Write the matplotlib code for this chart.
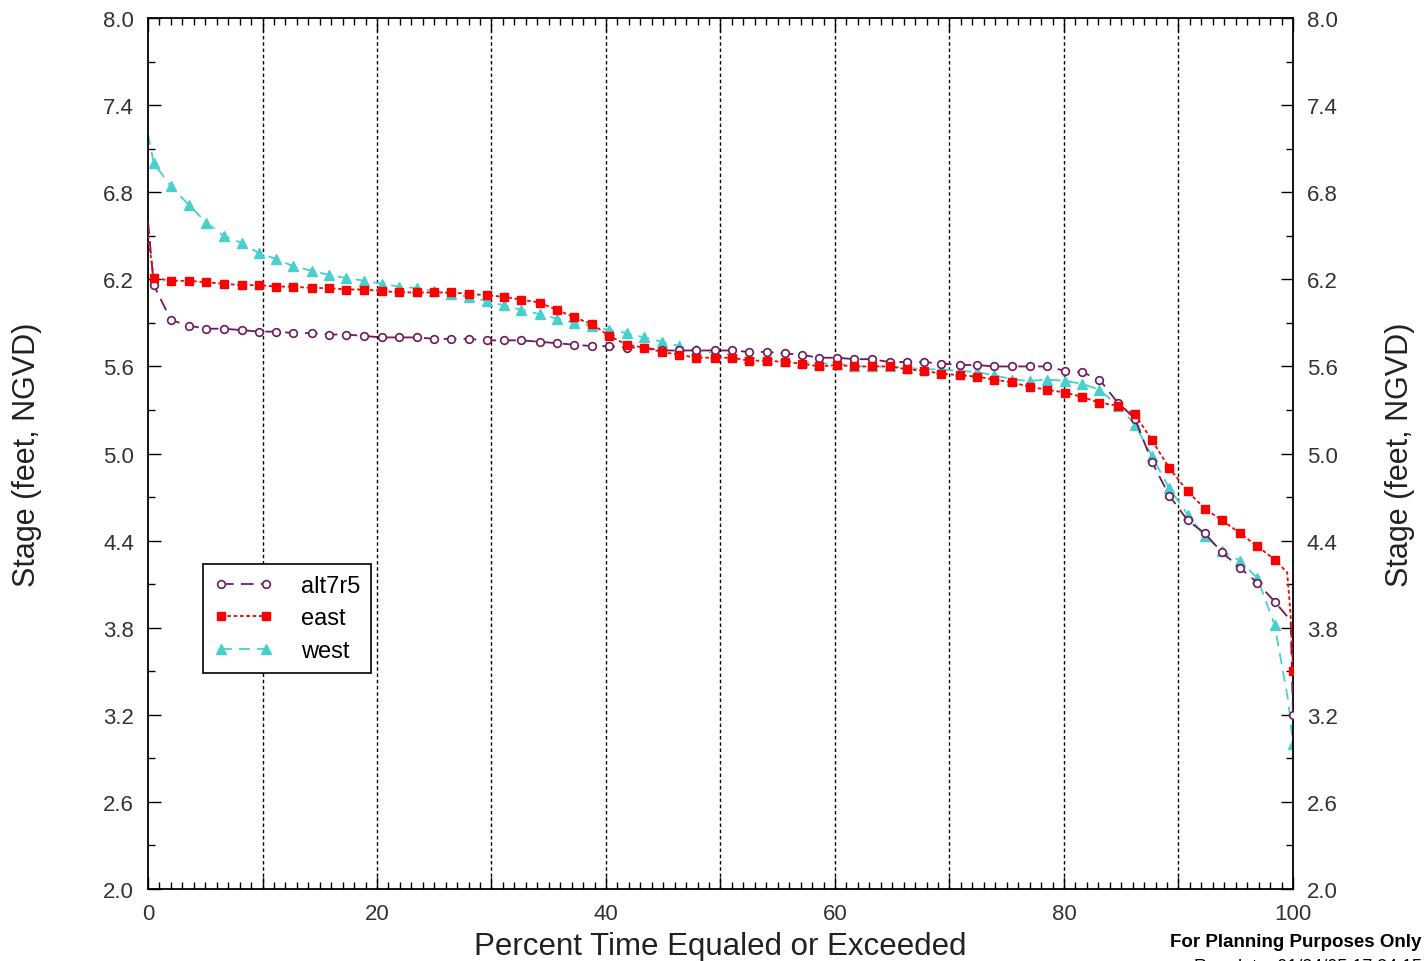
import numpy as np
import matplotlib
matplotlib.use("Agg")
import matplotlib.pyplot as plt
from matplotlib.ticker import MultipleLocator, FixedLocator, FormatStrFormatter

plt.rcParams['font.family'] = ['Liberation Sans', 'DejaVu Sans']

# percent-exceedance positions of the plotted markers
pct_grid = [0.5, 2.0, 3.6, 5.1, 6.6, 8.2, 9.7, 11.2, 12.7, 14.3, 15.8, 17.3, 18.9,
            20.4, 21.9, 23.5, 25.0, 26.5, 28.0, 29.6, 31.1, 32.6, 34.2, 35.7, 37.2,
            38.8, 40.3, 41.8, 43.3, 44.9, 46.4, 47.9, 49.5, 51.0, 52.5, 54.1, 55.6,
            57.1, 58.6, 60.2, 61.7, 63.2, 64.8, 66.3, 67.8, 69.3, 70.9, 72.4, 73.9,
            75.5, 77.0, 78.5, 80.1, 81.6, 83.1, 84.7, 86.2, 87.7, 89.2, 90.8, 92.3,
            93.8, 95.4, 96.9, 98.4]

alt_pct = [0.0] + pct_grid + [99.8, 100.0]
alt_stage = [6.60, 6.16, 5.92, 5.88, 5.86, 5.86, 5.85, 5.84, 5.84, 5.83, 5.83, 5.82,
             5.82, 5.81, 5.80, 5.80, 5.80, 5.79, 5.79, 5.79, 5.78, 5.78, 5.78, 5.77,
             5.76, 5.75, 5.74, 5.74, 5.73, 5.73, 5.71, 5.71, 5.71, 5.71, 5.71, 5.70,
             5.70, 5.69, 5.68, 5.66, 5.66, 5.65, 5.65, 5.63, 5.63, 5.63, 5.62, 5.61,
             5.61, 5.60, 5.60, 5.60, 5.60, 5.57, 5.56, 5.51, 5.35, 5.24, 4.94, 4.71,
             4.54, 4.45, 4.32, 4.21, 4.11, 3.98, 3.85, 3.20]

east_pct = [0.0] + pct_grid + [99.5, 99.8, 100.0]
east_stage = [6.50, 6.21, 6.19, 6.19, 6.18, 6.17, 6.16, 6.16, 6.15, 6.15, 6.14, 6.14,
              6.13, 6.13, 6.12, 6.11, 6.11, 6.11, 6.11, 6.10, 6.09, 6.08, 6.06, 6.04,
              5.99, 5.94, 5.89, 5.81, 5.75, 5.73, 5.70, 5.68, 5.66, 5.66, 5.66, 5.64,
              5.64, 5.63, 5.62, 5.60, 5.61, 5.60, 5.60, 5.60, 5.58, 5.57, 5.55, 5.54,
              5.53, 5.51, 5.49, 5.46, 5.44, 5.42, 5.39, 5.35, 5.33, 5.27, 5.09, 4.90,
              4.74, 4.62, 4.54, 4.45, 4.36, 4.27, 4.18, 3.88, 3.50]

west_pct = [0.0] + pct_grid + [99.6, 100.0]
west_stage = [7.20, 7.00, 6.84, 6.71, 6.59, 6.50, 6.45, 6.38, 6.34, 6.29, 6.26, 6.23,
              6.21, 6.19, 6.17, 6.15, 6.14, 6.12, 6.10, 6.08, 6.05, 6.02, 5.99, 5.96,
              5.93, 5.90, 5.88, 5.85, 5.83, 5.80, 5.77, 5.74, 5.71, 5.69, 5.68, 5.66,
              5.65, 5.64, 5.63, 5.62, 5.62, 5.60, 5.60, 5.60, 5.59, 5.58, 5.58, 5.57,
              5.56, 5.54, 5.51, 5.50, 5.51, 5.50, 5.48, 5.44, 5.33, 5.20, 4.98, 4.76,
              4.58, 4.43, 4.33, 4.26, 4.14, 3.82, 3.29, 3.00]

y_ticks = [2.0, 2.6, 3.2, 3.8, 4.4, 5.0, 5.6, 6.2, 6.8, 7.4, 8.0]
x_ticks = [0, 10, 20, 30, 40, 50, 60, 70, 80, 90, 100]
x_labels = ['0', '', '20', '', '40', '', '60', '', '80', '', '100']

n_grid = len(pct_grid)

fig = plt.figure(figsize=(14.26, 9.62), dpi=100)
ax = fig.add_axes([0.1038, 0.0748, 0.8029, 0.9054])

# vertical dotted grid
for gx in x_ticks[1:-1]:
    ax.axvline(gx, color='black', lw=1.0, ls=(0, (2.5, 2)), zorder=1)

ax.plot(alt_pct, alt_stage, color='#6e1a5e', lw=1.3, ls=(0, (7, 4)),
        marker='o', ms=5.5, mfc='white', mec='#6e1a5e', mew=1.2,
        markevery=list(range(1, n_grid + 1)) + [len(alt_pct) - 1],
        label='alt7r5', zorder=3)
ax.plot(east_pct, east_stage, color='#ff0000', lw=1.3, ls=(0, (2, 1.5)),
        marker='s', ms=6, mfc='#ff0000', mec='#ff0000',
        markevery=list(range(1, n_grid + 1)) + [len(east_pct) - 1],
        label='east', zorder=4)
ax.plot(west_pct, west_stage, color='#48d0cc', lw=1.3, ls=(0, (6, 4)),
        marker='^', ms=7, mfc='#48d0cc', mec='#48d0cc',
        markevery=list(range(1, n_grid + 1)) + [len(west_pct) - 1],
        label='west', zorder=2)

ax.set_xlim(0, 100)
ax.set_ylim(2.0, 8.0)
ax.set_xticks(x_ticks)
ax.set_xticklabels(x_labels)
ax.xaxis.set_minor_locator(MultipleLocator(1))
ax.yaxis.set_major_locator(FixedLocator(y_ticks))
ax.yaxis.set_minor_locator(FixedLocator([v + 0.3 for v in y_ticks[:-1]]))
ax.yaxis.set_major_formatter(FormatStrFormatter('%.1f'))

ax.tick_params(which='both', direction='in', top=True, right=True,
               labelright=True, labelsize=16, colors='black', labelcolor='#333333')
ax.tick_params(which='major', length=9, width=1.0, pad=10)
ax.tick_params(which='minor', length=5, width=1.0)
for s in ax.spines.values():
    s.set_linewidth(1.3)

ax.set_xlabel('Percent Time Equaled or Exceeded', fontsize=22.5, labelpad=5,
              color='#222222')
ax.set_ylabel('Stage (feet, NGVD)', fontsize=22, labelpad=44, color='#222222')
ax2 = ax.secondary_yaxis('right')
ax2.set_yticks([])
ax2.spines['right'].set_visible(False)
ax2.set_ylabel('Stage (feet, NGVD)', fontsize=22, labelpad=66, color='#222222')

leg = ax.legend(loc='upper left', bbox_to_anchor=(0.048, 0.373), fontsize=17,
                numpoints=2, handlelength=2.5, handletextpad=1.2, borderpad=0.45,
                borderaxespad=0, labelspacing=0.45, fancybox=False, framealpha=1,
                edgecolor='black')
leg.get_frame().set_linewidth(1.2)

fig.text(0.997, 0.02, 'For Planning Purposes Only', ha='right', va='center',
         fontsize=13.5, fontweight='bold')
fig.text(0.997, -0.006, 'Run date  01/24/05 17:34:15', ha='right', va='center',
         fontsize=13)

fig.savefig('out.png', dpi=100)
